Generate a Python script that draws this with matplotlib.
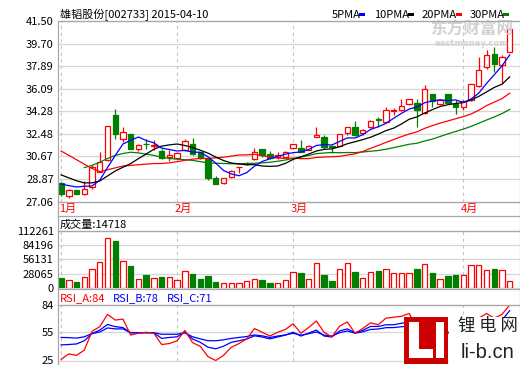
import numpy as np
import matplotlib
matplotlib.use("Agg")
import matplotlib.pyplot as plt
from matplotlib.patches import Rectangle
from matplotlib.lines import Line2D
from matplotlib.transforms import blended_transform_factory

plt.rcParams['font.family'] = ['Noto Sans CJK SC', 'DejaVu Sans']

# Data (one entry per trading day, 2015-01-05 .. 2015-04-10)
opens = [28.52, 27.50, 27.96, 27.64, 28.20, 29.45, 30.39, 34.00, 32.05, 32.45,
         31.27, 31.70, 31.50, 31.11, 30.65, 30.53, 31.17, 31.65, 31.00, 30.50,
         28.92, 28.52, 29.05, 29.80, 30.08, 30.47, 31.27, 30.85, 30.63, 30.66,
         31.33, 31.33, 31.19, 32.24, 32.24, 31.54, 31.54, 32.53, 33.04, 32.53,
         33.01, 33.65, 33.46, 34.30, 34.35, 34.88, 34.94, 34.13, 35.68, 34.88,
         35.68, 34.88, 34.62, 35.20, 36.30, 37.83, 38.90, 38.00, 39.06]
highs = [28.60, 28.05, 28.00, 28.70, 29.95, 31.05, 33.10, 34.48, 33.00, 32.50,
         31.65, 32.05, 32.00, 31.27, 31.20, 31.00, 32.05, 32.18, 31.05, 30.55,
         29.13, 28.95, 29.60, 29.82, 30.20, 31.38, 31.30, 31.11, 31.03, 31.10,
         31.70, 32.00, 31.60, 33.06, 32.40, 31.56, 32.50, 33.05, 33.52, 32.90,
         33.60, 33.86, 34.62, 34.55, 35.30, 35.30, 35.26, 36.35, 35.70, 35.30,
         35.70, 35.20, 35.15, 36.50, 38.62, 39.17, 39.46, 38.75, 41.20]
lows = [27.50, 27.36, 27.65, 27.60, 28.10, 29.40, 30.30, 32.10, 31.85, 31.25,
        31.10, 31.27, 31.20, 30.50, 30.30, 30.45, 31.10, 30.80, 30.50, 28.80,
        28.45, 28.50, 28.92, 29.32, 30.00, 30.40, 30.60, 30.50, 30.50, 30.60,
        31.30, 31.00, 31.15, 32.20, 31.27, 30.93, 31.50, 32.40, 32.30, 32.40,
        32.95, 33.06, 33.40, 33.95, 34.30, 34.80, 33.06, 34.05, 34.60, 34.80,
        34.90, 34.08, 34.40, 35.10, 36.20, 37.70, 37.40, 36.54, 39.00]
closes = [27.65, 28.00, 27.70, 28.06, 29.80, 30.23, 33.09, 32.50, 32.66, 31.30,
          31.57, 31.65, 31.55, 30.57, 30.78, 30.93, 31.90, 30.85, 30.53, 28.92,
          28.46, 28.92, 29.50, 29.82, 30.14, 31.06, 30.79, 30.57, 30.77, 31.06,
          31.65, 31.06, 31.54, 32.40, 31.43, 31.46, 32.45, 33.01, 32.34, 32.77,
          33.52, 33.55, 34.38, 34.40, 34.72, 35.26, 34.35, 36.08, 35.09, 35.20,
          34.94, 34.62, 35.07, 36.46, 37.58, 38.77, 38.10, 38.62, 40.90]

ma5 = [28.46, 28.33, 28.22, 28.28, 28.30, 28.76, 29.78, 30.74, 31.66, 31.96,
       32.22, 31.94, 31.75, 31.33, 31.22, 31.10, 31.15, 31.01, 31.00, 30.63,
       30.13, 29.54, 29.27, 29.12, 29.37, 29.89, 30.26, 30.48, 30.67, 30.85,
       30.97, 31.02, 31.22, 31.54, 31.62, 31.58, 31.86, 32.15, 32.14, 32.41,
       32.82, 33.04, 33.31, 33.72, 34.11, 34.46, 34.62, 34.96, 35.10, 35.20,
       35.13, 35.19, 34.98, 35.26, 35.73, 36.50, 37.20, 37.91, 38.79]
ma10 = [29.19, 28.95, 28.72, 28.55, 28.55, 28.70, 29.10, 29.50, 29.80, 30.10,
        30.49, 30.86, 31.24, 31.49, 31.59, 31.66, 31.54, 31.38, 31.16, 30.93,
        30.61, 30.34, 30.14, 30.06, 30.00, 30.01, 29.90, 29.87, 29.90, 30.11,
        30.43, 30.64, 30.85, 31.10, 31.23, 31.27, 31.44, 31.68, 31.84, 32.01,
        32.20, 32.45, 32.73, 32.93, 33.26, 33.64, 33.83, 34.14, 34.41, 34.66,
        34.80, 34.90, 34.97, 35.18, 35.47, 35.82, 36.19, 36.44, 37.03]
ma20 = [31.10, 30.75, 30.40, 30.05, 29.70, 29.45, 29.60, 29.75, 29.90, 29.95,
        30.00, 30.05, 30.10, 30.10, 30.15, 30.25, 30.35, 30.45, 30.50, 30.51,
        30.55, 30.60, 30.69, 30.78, 30.79, 30.84, 30.72, 30.62, 30.53, 30.52,
        30.52, 30.49, 30.49, 30.58, 30.62, 30.64, 30.67, 30.78, 30.87, 31.06,
        31.31, 31.54, 31.79, 32.02, 32.25, 32.46, 32.63, 32.91, 33.13, 33.33,
        33.50, 33.68, 33.85, 34.06, 34.36, 34.73, 35.01, 35.29, 35.72]
ma30 = [np.nan, np.nan, np.nan, 29.77, 29.95, 30.20, 30.50, 30.75, 30.90, 31.00,
        30.95, 30.85, 30.75, 30.60, 30.50, 30.45, 30.40, 30.35, 30.25, 30.15,
        30.12, 30.10, 30.08, 30.08, 30.10, 30.12, 30.15, 30.20, 30.28, 30.38,
        30.51, 30.61, 30.74, 30.89, 30.94, 30.98, 30.96, 30.98, 30.97, 31.02,
        31.08, 31.14, 31.24, 31.37, 31.50, 31.64, 31.72, 31.90, 32.05, 32.26,
        32.47, 32.66, 32.85, 33.07, 33.32, 33.58, 33.82, 34.09, 34.43]

volumes = [20150, 16250, 12350, 21450, 37050, 51350, 99450, 92300, 52650, 43550,
           17550, 25350, 18850, 22100, 21450, 15600, 33150, 27950, 18200, 24050,
           12350, 9750, 9750, 9750, 13650, 17550, 16250, 10400, 10400, 16250,
           31200, 29900, 17550, 48750, 26000, 14300, 37050, 48750, 31850, 19500,
           31200, 33800, 37050, 29900, 29900, 29900, 37700, 46800, 29900, 17550,
           24050, 26000, 26000, 44850, 44850, 35100, 37700, 35100, 14718]

rsi_a = [26.3, 32, 30.5, 36, 56, 61, 74, 68, 69, 52,
         54, 55, 54, 42, 43, 46, 57, 44, 40, 29,
         25, 30.5, 39, 43, 48, 59, 55, 51, 55, 58,
         64, 54, 60, 67, 55, 50, 61.5, 66, 54, 59,
         65, 63, 70, 71, 72, 75, 60, 68, 58, 60,
         55, 48, 53, 61, 70, 75, 70, 74, 84]
rsi_b = [41.6, 42, 42.6, 46, 53.6, 57.4, 63.3, 61, 60, 54.5,
         54.5, 54.5, 54.5, 48.5, 49.5, 50.2, 55.3, 47.8, 44.3, 39.1,
         37.4, 40.2, 44.3, 46, 47.8, 51.2, 50, 48, 50, 52,
         55, 51, 54, 57.4, 51, 50, 56.4, 58.6, 54.5, 57,
         61.2, 61.2, 63, 63, 64.6, 65.6, 60, 63, 57, 57,
         55, 54.7, 56, 60, 65, 67, 65, 68, 78]
rsi_c = [49.5, 49.3, 48.8, 50.2, 53.6, 55.3, 59.6, 58.6, 58.6, 54.5,
         54.5, 54.5, 54.5, 52.9, 52.9, 52.9, 54.5, 50.2, 48, 46,
         46, 47, 48.5, 49.5, 50.5, 52.2, 51.2, 49.5, 51, 52.2,
         54, 52, 53.5, 55.3, 52, 51, 54.5, 56.4, 54, 55.5,
         58, 58.5, 59.9, 60, 60.9, 61.5, 58, 60, 56.4, 56,
         54.7, 54.7, 56, 57.5, 60.9, 63, 61.5, 63.5, 71]

price_ticks = [27.06, 28.87, 30.67, 32.48, 34.28, 36.09, 37.89, 39.70, 41.50]
price_tick_labels = ["27.06", "28.87", "30.67", "32.48", "34.28", "36.09", "37.89", "39.70", "41.50"]
vol_ticks = [0, 28065, 56131, 84196, 112261]
rsi_ticks = [25, 55, 84]
month_starts = [0, 15, 30, 52]
month_labels = ["1月", "2月", "3月", "4月"]
ma_names = ["5PMA", "10PMA", "20PMA", "30PMA"]

title = "雄韬股份[002733] 2015-04-10"

# colours
RED = "#ff0000"
GREEN = "#008000"
BLUE = "#0000ff"
BORDER = "#a8a8a8"
GRID = "#d6d6d6"
DASH = "#c4c4c4"

W, H = 520, 365
x = np.arange(len(closes))


def fx(px):
    return px / W


def fy(py):
    return 1 - py / H


fig = plt.figure(figsize=(W / 100, H / 100), dpi=100)
fig.patch.set_facecolor("white")

ax_p = fig.add_axes([fx(58), fy(201.5), 461 / W, 180.5 / H])
ax_v = fig.add_axes([fx(58), fy(288), 461 / W, 57 / H])
ax_r = fig.add_axes([fx(58), fy(360.5), 461 / W, 55.5 / H])

for ax, ticks, labels, lims in [
    (ax_p, price_ticks, price_tick_labels, (27.06, 41.50)),
    (ax_v, vol_ticks, [str(v) for v in vol_ticks], (0, 112261)),
    (ax_r, rsi_ticks, [str(v) for v in rsi_ticks], (25, 84)),
]:
    ax.set_xlim(-0.4, 59.2)
    ax.set_ylim(*lims)
    ax.set_xticks([])
    ax.set_yticks(ticks)
    ax.set_yticklabels(labels)
    ax.tick_params(axis="y", length=0, pad=3, labelsize=8)
    for s in ax.spines.values():
        s.set_visible(False)
    for t in ticks:
        ax.axhline(t, color=GRID, lw=0.9, zorder=0, clip_on=False)
    for m in month_starts:
        ax.axvline(m, color=DASH, lw=0.8, ls=(0, (3, 3)), zorder=0)

##############################
# Price panel: candles + moving averages
for i in x:
    up = closes[i] >= opens[i]
    col = RED if up else GREEN
    ax_p.vlines(i, lows[i], highs[i], color=col, lw=0.9, zorder=2)
    bottom = min(opens[i], closes[i])
    height = max(abs(closes[i] - opens[i]), 0.01)
    if up:
        ax_p.bar(i, height, bottom=bottom, width=0.7, facecolor="white",
                 edgecolor=RED, linewidth=0.9, zorder=3)
    else:
        ax_p.bar(i, height, bottom=bottom, width=0.7, facecolor=GREEN,
                 edgecolor=GREEN, linewidth=0.9, zorder=3)

ax_p.plot(x, ma30, color=GREEN, lw=0.9, zorder=4)
ax_p.plot(x, ma20, color=RED, lw=0.9, zorder=4)
ax_p.plot(x, ma10, color="black", lw=0.9, zorder=4)
ax_p.plot(x, ma5, color=BLUE, lw=0.9, zorder=5)

# watermark
fig.text(fx(472), fy(30), "东方财富网", fontsize=12, color="#d2d2d2",
         fontweight="bold", ha="center", va="center", zorder=0)
fig.text(fx(472), fy(43), "eastmoney.com", fontsize=6, color="#d2d2d2",
         ha="center", va="center", family="DejaVu Sans", fontweight="bold")

# month labels under the price panel
trans = blended_transform_factory(ax_p.transData, fig.transFigure)
for m, lab in zip(month_starts, month_labels):
    fig.text(m - 0.3, fy(208.5), lab, transform=trans, color=RED, fontsize=8,
             ha="left", va="center")

##############################
# Volume panel
for i in x:
    up = closes[i] >= opens[i]
    if up:
        ax_v.bar(i, volumes[i], width=0.7, facecolor="white", edgecolor=RED,
                 linewidth=0.9, zorder=3)
    else:
        ax_v.bar(i, volumes[i], width=0.7, facecolor=GREEN, edgecolor=GREEN,
                 linewidth=0.9, zorder=3)

##############################
# RSI panel
ax_r.plot(x, rsi_c, color=BLUE, lw=0.9, zorder=3)
ax_r.plot(x, rsi_b, color=BLUE, lw=0.9, zorder=3)
ax_r.plot(x, rsi_a, color=RED, lw=0.9, zorder=4)

##############################
# Frame lines
for yy in [21, 201.5, 215.7, 231, 289.3, 305]:
    fig.add_artist(Line2D([fx(58), fx(520)], [fy(yy), fy(yy)], color=BORDER, lw=0.9))
for xx in [58, 519.5]:
    fig.add_artist(Line2D([fx(xx), fx(xx)], [fy(21), fy(365)], color=BORDER, lw=0.9))

# Headers
fig.text(fx(60), fy(15), title, fontsize=8, ha="left", va="center")

legend_x = [332, 374, 422, 470]
legend_sq = [359, 408, 456, 503]
for name, tx, sx, col in zip(ma_names, legend_x, legend_sq, [BLUE, "black", RED, GREEN]):
    fig.text(fx(tx), fy(15), name, fontsize=8, ha="left", va="center")
    fig.add_artist(Rectangle((fx(sx), fy(16)), 6 / W, 3 / H, transform=fig.transFigure,
                             facecolor=col, edgecolor="none"))

fig.text(fx(60), fy(225), "成交量:14718", fontsize=8, ha="left", va="center")

fig.text(fx(60), fy(298), "RSI_A:84", fontsize=8, ha="left", va="center", color=RED)
fig.text(fx(113), fy(298), "RSI_B:78", fontsize=8, ha="left", va="center", color=BLUE)
fig.text(fx(167), fy(298), "RSI_C:71", fontsize=8, ha="left", va="center", color=BLUE)

# li-b.cn logo
fig.add_artist(Rectangle((fx(404), fy(364)), 44 / W, 47 / H, transform=fig.transFigure,
                         facecolor="#cc0000", edgecolor="none", zorder=10))
for (rx, ry, rw, rh) in [(409, 322, 10, 36), (409, 349, 24, 9), (435.5, 322, 8, 36)]:
    fig.add_artist(Rectangle((fx(rx), fy(ry + rh)), rw / W, rh / H, transform=fig.transFigure,
                             facecolor="white", edgecolor="none", zorder=11))
fig.add_artist(Rectangle((fx(449), fy(364)), 71 / W, 47 / H, transform=fig.transFigure,
                         facecolor="white", edgecolor="none", zorder=10))
fig.text(fx(487.5), fy(326), "锂 电 网", fontsize=12.5, ha="center", va="center", color="#222222", zorder=12)
fig.text(fx(487.5), fy(352), "li-b.cn", fontsize=14.5, ha="center", va="center", color="#222222",
         family="Liberation Sans", zorder=12)

plt.savefig("out.png", dpi=100)
plt.close()
